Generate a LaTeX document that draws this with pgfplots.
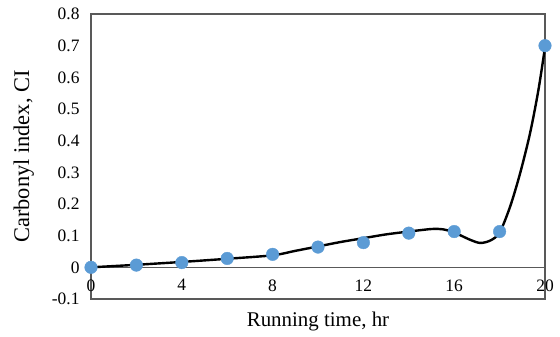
\documentclass[border=0pt]{standalone}
\usepackage{pgfplots}
\pgfplotsset{compat=1.18}
\usepackage{fontspec}
\setmainfont{Liberation Serif}
\definecolor{axgray}{HTML}{595959}
\definecolor{ptblue}{HTML}{5B9BD5}
\begin{document}
\begin{tikzpicture}
\begin{axis}[
  name=ax,
  scale only axis,
  width=454bp, height=285bp,
  xmin=0, xmax=20, ymin=-0.1, ymax=0.8,
  axis line style={axgray, line width=1.5bp},
  xtick={0,4,8,12,16,20},
  xticklabels={0,4,8,12,16,20},
  ytick={-0.1,0,0.1,0.2,0.3,0.4,0.5,0.6,0.7,0.8},
  yticklabels={-0.1,0,0.1,0.2,0.3,0.4,0.5,0.6,0.7,0.8},
  major tick length=0pt,
  tick label style={font=\fontsize{17.5}{19}\selectfont, text=black},
  xticklabel style={yshift=23bp},
  yticklabel style={xshift=-8bp},
  xlabel={Running time, hr},
  ylabel={Carbonyl index, CI},
  xlabel style={font=\fontsize{21}{23}\selectfont, yshift=-9bp},
  ylabel style={font=\fontsize{22.5}{24}\selectfont, yshift=11bp},
  clip=false,
]
\draw[axgray, line width=1.5bp] (axis cs:0,0) -- (axis cs:20,0);
\addplot[only marks, mark=*, mark size=6.3bp, ptblue, mark options={draw=ptblue, fill=ptblue}] coordinates {
(0,0) (2,0.007) (4,0.015) (6,0.028) (8,0.041) (10,0.064) (12,0.078) (14,0.108) (16,0.113) (18,0.113) (20,0.700)
};
\addplot[black, line width=2.4bp, smooth, tension=0.5] coordinates {
(0,0) (2,0.008) (4,0.017) (6,0.027) (8,0.038) (9,0.052) (10,0.066) (11,0.080) (12,0.092) (13,0.104) (14,0.113) (15,0.121) (15.5,0.120) (16,0.110) (16.7,0.087) (17.15,0.077) (17.6,0.085) (18,0.110) (18.46,0.191) (18.9,0.296) (19.34,0.423) (19.71,0.560) (20,0.695)
};
\end{axis}
\pgfresetboundingbox
\path ([shift={(-91bp,-38bp)}]ax.south west) rectangle ([shift={(15bp,14bp)}]ax.north east);
\end{tikzpicture}
\end{document}
